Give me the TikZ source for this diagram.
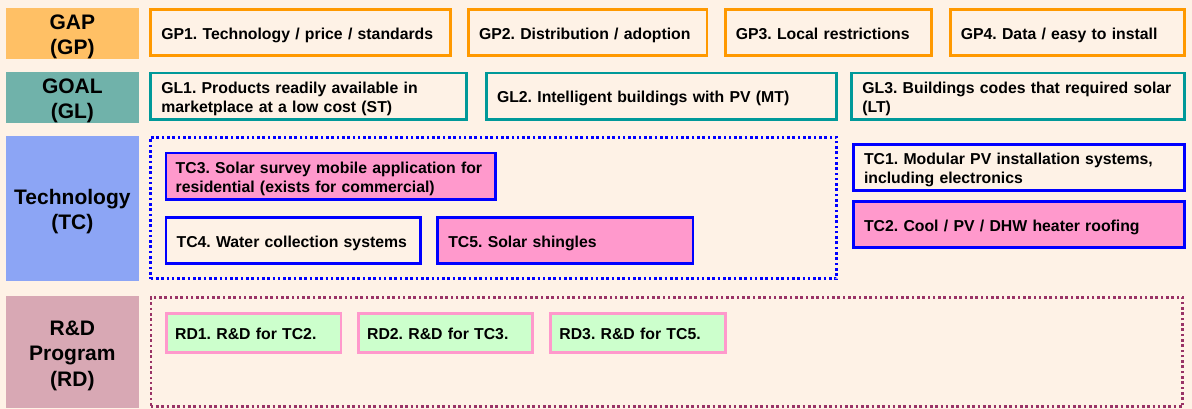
\documentclass[tikz,border=0pt]{standalone}
\usepackage{fontspec}
\setmainfont{Liberation Sans}
\frenchspacing
\newcommand\bxfnt{\fontsize{15.8}{19}\selectfont\bfseries\frenchspacing}
\newcommand\lbfnt{\fontsize{21}{25.5}\selectfont\bfseries}
\newcommand\lbfnttight{\fontsize{21}{24.6}\selectfont\bfseries}
\definecolor{bgc}{RGB}{254,242,230}
\definecolor{gapfill}{RGB}{255,192,101}
\definecolor{gapline}{RGB}{255,153,0}
\definecolor{goalfill}{RGB}{112,178,170}
\definecolor{goalline}{RGB}{0,153,153}
\definecolor{tcfill}{RGB}{140,165,245}
\definecolor{tcline}{RGB}{0,0,255}
\definecolor{pinkfill}{RGB}{255,153,204}
\definecolor{rdfill}{RGB}{216,168,180}
\definecolor{rdline}{RGB}{255,153,204}
\definecolor{rdbox}{RGB}{204,255,204}
\definecolor{rdcont}{RGB}{153,51,102}
\tikzset{
  bx/.style={draw, line width=2.8pt, anchor=north west, outer sep=0pt,
    inner xsep=10.6pt, inner ysep=0pt, align=left, font=\bxfnt, text=black,
    execute at begin node={\rule[-3.5pt]{0pt}{20.4pt}},
    execute at end node={\rule[-3.5pt]{0pt}{3.5pt}}},
  gpbox/.style={bx, draw=gapline},
  glbox/.style={bx, draw=goalline},
  tcbox/.style={bx, draw=tcline},
  tcpink/.style={tcbox, fill=pinkfill},
  rdbx/.style={bx, draw=rdline, fill=rdbox, inner xsep=9pt},
  lbl/.style={anchor=north west, outer sep=0pt, inner sep=0pt, align=center,
    font=\lbfnt, minimum width=132.7pt, text width=132.7pt, text=black,
    execute at begin node={\rule[-4.5pt]{0pt}{26.3pt}},
    execute at end node={\rule[-4.5pt]{0pt}{4.5pt}}},
  cont/.style={draw, line width=2.6pt, dash pattern=on 2.6pt off 2.7pt,
    anchor=north west, outer sep=0pt, inner sep=0pt},
}
\begin{document}
\begin{tikzpicture}[x=1pt,y=-1pt]
\fill[bgc] (0,0) rectangle (1192,409);
\useasboundingbox (0,0) rectangle (1192,409);

% row labels
\node[lbl, font=\lbfnttight, fill=gapfill, minimum height=48.7pt] (gap) at (6,8) {GAP\\(GP)};
\node[lbl, font=\lbfnttight, fill=goalfill, minimum height=49pt] (goal) at (6,71.7) {GOAL\\(GL)};
\node[lbl, fill=tcfill, minimum height=144.5pt] (tech) at (6,136) {Technology\\(TC)};
\node[lbl, fill=rdfill, minimum height=112pt] (rd) at (6,296) {R\&D\\Program\\(RD)};

% GAP row
\node[gpbox, minimum width=299.5pt, minimum height=45.9pt, text width=278.3pt] (gp1) at (150.7,9.4) {GP1. Technology / price / standards};
\node[gpbox, minimum width=238.5pt, minimum height=45.9pt, text width=217.3pt] (gp2) at (468.4,9.4) {GP2. Distribution / adoption};
\node[gpbox, minimum width=206.4pt, minimum height=45.9pt, text width=185.2pt] (gp3) at (725.2,9.4) {GP3. Local restrictions};
\node[gpbox, minimum width=234.4pt, minimum height=45.9pt, text width=213.2pt] (gp4) at (950.2,9.4) {GP4. Data / easy to install};

% GOAL row
\node[glbox, minimum width=315.6pt, minimum height=46.2pt, text width=294.4pt] (gl1) at (150.7,73.1) {GL1. Products readily available in\\marketplace at a low cost (ST)};
\node[glbox, minimum width=350pt, minimum height=46.2pt, text width=328.8pt] (gl2) at (486.4,73.1) {GL2. Intelligent buildings with PV (MT)};
\node[glbox, minimum width=332.9pt, minimum height=46.2pt, text width=311.7pt] (gl3) at (851.7,73.1) {GL3. Buildings codes that required solar\\(LT)};

% Technology row
\node[cont, draw=tcline, minimum width=686.1pt, minimum height=141.4pt] (tccont) at (150.6,137.3) {};
\node[tcpink, minimum width=329.3pt, minimum height=46.5pt, text width=310pt, inner xsep=9.7pt] (tc3) at (166,153.1) {TC3. Solar survey mobile application for\\residential (exists for commercial)};
\node[tcbox, minimum width=254.6pt, minimum height=46.2pt, text width=233.4pt] (tc4) at (166,217.4) {TC4. Water collection systems};
\node[tcpink, minimum width=255.3pt, minimum height=46.2pt, text width=234.1pt] (tc5) at (437.7,217.4) {TC5. Solar shingles};
\node[tcbox, minimum width=330.7pt, minimum height=46.2pt, text width=309.5pt] (tc1) at (853.4,144.4) {TC1. Modular PV installation systems,\\including electronics};
\node[tcpink, minimum width=330.7pt, minimum height=45.9pt, text width=309.5pt] (tc2) at (853.4,201.4) {TC2. Cool / PV / DHW heater roofing};

% R&D row
\node[cont, draw=rdcont, minimum width=1031.9pt, minimum height=109.4pt] (rdcont) at (150.8,297.3) {};
\node[rdbx, minimum width=174.8pt, minimum height=39.2pt, text width=156.8pt] (rd1) at (166.1,313.4) {RD1. R\&D for TC2.};
\node[rdbx, minimum width=174.5pt, minimum height=39.2pt, text width=156.5pt] (rd2) at (358.1,313.4) {RD2. R\&D for TC3.};
\node[rdbx, minimum width=174.9pt, minimum height=39.2pt, text width=156.9pt] (rd3) at (550.4,313.4) {RD3. R\&D for TC5.};
\end{tikzpicture}
\end{document}
